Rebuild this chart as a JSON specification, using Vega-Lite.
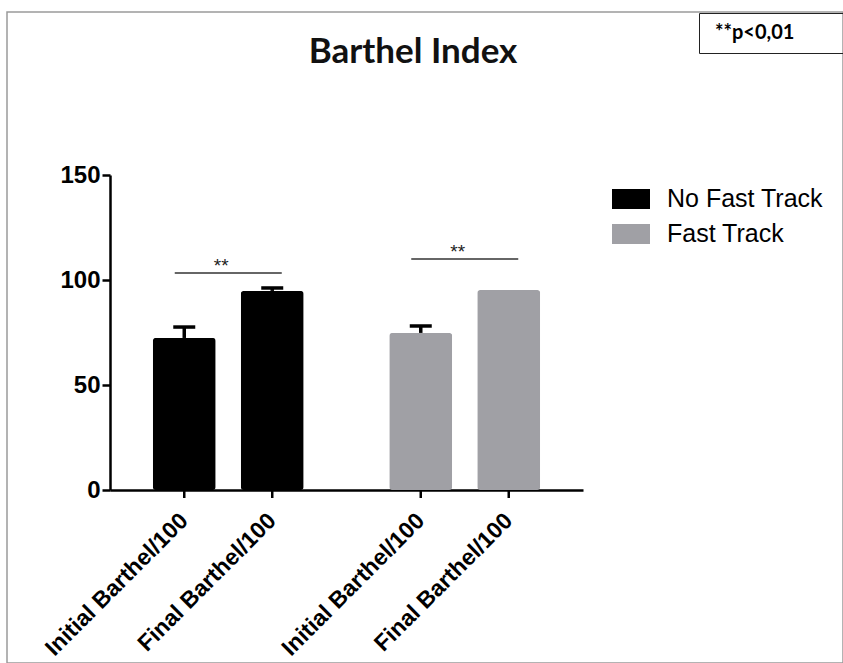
{
  "$schema": "https://vega.github.io/schema/vega-lite/v6.json",
  "autosize": {"type": "none"},
  "padding": {"left": 7, "top": 12, "right": 0, "bottom": 0},
  "width": 836,
  "height": 651,
  "background": "white",
  "config": {
    "view": {"stroke": "#9a9a9a", "strokeWidth": 1.5},
    "font": "Liberation Sans"
  },
  "title": {
    "text": "Barthel Index",
    "font": "Lato",
    "fontSize": 35,
    "fontWeight": "bold",
    "color": "#111111",
    "anchor": "middle",
    "frame": "group",
    "baseline": "alphabetic",
    "offset": -51,
    "dx": -12,
    "dy": 35
  },
  "datasets": {
    "bars": [
      {"group": "No Fast Track", "measure": "Initial Barthel/100", "mean": 72.4, "upper": 77.6},
      {"group": "No Fast Track", "measure": "Final Barthel/100", "mean": 94.8, "upper": 96.2},
      {"group": "Fast Track", "measure": "Initial Barthel/100", "mean": 74.8, "upper": 78.1},
      {"group": "Fast Track", "measure": "Final Barthel/100", "mean": 95.2, "upper": null}
    ],
    "sig": [
      {"group": "No Fast Track", "level": 103.3, "label": "**", "note": "**p<0,01"},
      {"group": "Fast Track", "level": 110, "label": "**", "note": "**p<0,01"}
    ]
  },
  "layer": [
    {
      "data": {"name": "bars"},
      "mark": {"type": "bar", "cornerRadius": 3},
      "encoding": {
        "x": {
          "field": "group", "type": "nominal",
          "scale": {"domain": ["No Fast Track", "Fast Track"], "range": [103, 576], "paddingInner": 0, "paddingOuter": 0},
          "axis": {"labels": false, "ticks": false, "title": null, "domainColor": "#000000", "domainWidth": 2.5, "offset": -173}
        },
        "xOffset": {
          "field": "measure", "type": "nominal",
          "scale": {"domain": ["Initial Barthel/100", "Final Barthel/100"], "paddingInner": 0.284, "paddingOuter": 0.486}
        },
        "y": {
          "field": "mean", "type": "quantitative",
          "scale": {"domain": [0, 150], "range": [478, 163], "nice": false},
          "axis": {
            "values": [0, 50, 100, 150], "title": null, "grid": false, "offset": -103,
            "domainColor": "#000000", "domainWidth": 2.5, "tickColor": "#000000", "tickWidth": 2.5, "tickSize": 8,
            "labelFont": "Liberation Sans", "labelFontSize": 24, "labelFontWeight": "bold", "labelColor": "#000000", "labelPadding": 2
          }
        },
        "color": {
          "field": "group", "type": "nominal",
          "scale": {"domain": ["No Fast Track", "Fast Track"], "range": ["#000000", "#a0a0a5"]},
          "legend": {
            "title": null, "orient": "none", "legendX": 605, "legendY": 168,
            "symbolType": "M-1,-0.53H1V0.53H-1Z", "symbolSize": 1444, "symbolStrokeWidth": 0, "symbolOpacity": 1,
            "labelFont": "Liberation Sans", "labelFontSize": 25, "labelColor": "#000000", "labelOffset": 17, "rowPadding": 3
          }
        }
      }
    },
    {
      "data": {"name": "bars"},
      "transform": [{"filter": "isValid(datum.upper)"}],
      "mark": {"type": "rule", "strokeWidth": 3.5, "color": "#000000"},
      "encoding": {
        "x": {"field": "group", "type": "nominal"},
        "xOffset": {"field": "measure", "type": "nominal"},
        "y": {"field": "mean", "type": "quantitative", "title": null},
        "y2": {"field": "upper"}
      }
    },
    {
      "data": {"name": "bars"},
      "transform": [{"filter": "isValid(datum.upper)"}],
      "mark": {"type": "tick", "orient": "horizontal", "size": 22, "thickness": 3.5, "color": "#000000", "opacity": 1},
      "encoding": {
        "x": {"field": "group", "type": "nominal"},
        "xOffset": {"field": "measure", "type": "nominal"},
        "y": {"field": "upper", "type": "quantitative", "title": null}
      }
    },
    {
      "data": {"name": "bars"},
      "mark": {"type": "tick", "orient": "vertical", "size": 8, "thickness": 2.5, "color": "#000000", "yOffset": 4, "opacity": 1},
      "encoding": {
        "x": {"field": "group", "type": "nominal"},
        "xOffset": {"field": "measure", "type": "nominal"},
        "y": {"datum": 0}
      }
    },
    {
      "data": {"name": "bars"},
      "mark": {"type": "text", "angle": 315, "align": "right", "baseline": "middle", "font": "Liberation Sans", "fontSize": 23, "fontWeight": "bold", "color": "#000000"},
      "encoding": {
        "x": {"field": "group", "type": "nominal"},
        "xOffset": {"field": "measure", "type": "nominal"},
        "y": {"datum": -13},
        "text": {"field": "measure"}
      }
    },
    {
      "data": {"name": "sig"},
      "mark": {"type": "tick", "orient": "horizontal", "size": 107, "thickness": 1.5, "color": "#333333", "opacity": 1},
      "encoding": {
        "x": {"field": "group", "type": "nominal"},
        "y": {"field": "level", "type": "quantitative", "title": null}
      }
    },
    {
      "data": {"name": "sig"},
      "mark": {"type": "text", "font": "Liberation Sans", "fontSize": 19, "baseline": "alphabetic", "dx": -7, "dy": -1, "color": "#222222"},
      "encoding": {
        "x": {"field": "group", "type": "nominal"},
        "y": {"field": "level", "type": "quantitative", "title": null},
        "text": {"field": "label"}
      }
    },
    {
      "data": {"name": "sig"},
      "mark": {"type": "point", "opacity": 0},
      "encoding": {
        "x": {"field": "group", "type": "nominal"},
        "y": {"field": "level", "type": "quantitative", "title": null},
        "shape": {
          "field": "note", "type": "nominal",
          "legend": {
            "title": null, "orient": "none", "legendX": 692, "legendY": 1, "padding": 10,
            "strokeColor": "#222222",
            "symbolType": "square", "symbolSize": 16, "symbolOffset": 160, "symbolOpacity": 0, "symbolStrokeWidth": 0,
            "labelFont": "Lato", "labelFontSize": 20, "labelFontWeight": "bold", "labelColor": "#000000", "labelOffset": -174,
            "encode": {"legend": {"update": {"strokeWidth": {"value": 1.5}}}}
          }
        }
      }
    }
  ]
}
